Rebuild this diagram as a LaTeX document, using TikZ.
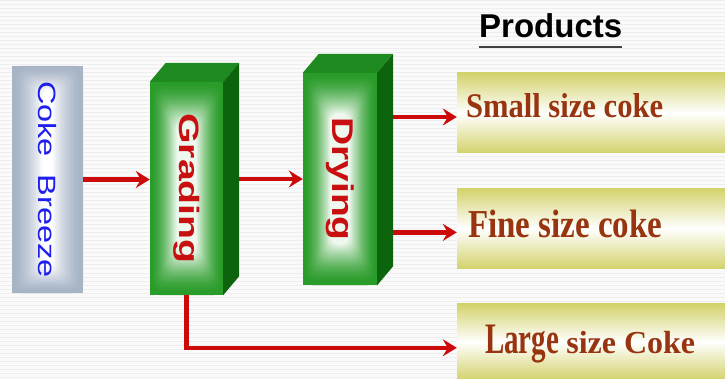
\documentclass[tikz,border=0pt]{standalone}
\usepackage{fontspec}
\setmainfont{Liberation Serif}
\setsansfont{Liberation Sans}
\usetikzlibrary{arrows.meta,positioning,calc}

\definecolor{boxgreen}{HTML}{2A9C2A}
\definecolor{glowgreen}{HTML}{EEF8EE}
\definecolor{topgreen}{HTML}{1F8A1F}
\definecolor{sidegreen}{HTML}{0C640C}
\definecolor{arrowred}{HTML}{CC0A0A}
\definecolor{breezegray}{HTML}{A7B4C6}
\definecolor{breezeblue}{HTML}{1E1EEE}
\definecolor{stagered}{HTML}{C81010}
\definecolor{barolive}{HTML}{D3D26C}
\definecolor{prodbrown}{HTML}{983410}
\definecolor{titleline}{HTML}{404040}
\definecolor{bgwhite}{HTML}{FAFAFA}
\definecolor{stripe}{HTML}{EEEEEE}

\begin{document}
\begin{tikzpicture}[x=1pt,y=-1pt,
    flow/.style={-{Stealth[length=14pt,width=17pt,inset=5pt]},line width=4.5pt,draw=arrowred},
    breezebox/.style={fill=breezegray,minimum width=71pt,minimum height=227pt,inner sep=0pt},
    stage/.style={fill=boxgreen,minimum width=73pt,minimum height=213pt,inner sep=0pt},
    topface/.style={fill=topgreen},
    sideface/.style={fill=sidegreen},
    bar/.style={top color=barolive,bottom color=barolive,middle color=white,
                minimum width=268pt,minimum height=80pt,inner sep=0pt},
    prodtext/.style={font=\bfseries,text=prodbrown,inner sep=0pt,anchor=base west}]

  \useasboundingbox (0,0) rectangle (725,379);
  \fill[bgwhite] (0,0) rectangle (725,379);
  \foreach \y in {1,5,...,377}
    \draw[stripe,line width=1pt] (0,\y) -- (725,\y);

  % feed and process blocks
  \node[breezebox] (breeze) at (47.5,179.5) {};
  \node[stage] (grading) at (186.5,188.5) {};
  \node[stage,minimum width=74pt,minimum height=212pt] (drying) at (340,179) {};

  % soft glow on the front faces
  \foreach \s/\ha/\hb/\ga/\gb/\base/\glow in
      {grading/36.5/106.5/10/66/boxgreen/glowgreen,
       drying/37/106/10/66/boxgreen/glowgreen,
       breeze/35.5/113.5/5/90/breezegray/white} {
    \foreach \i in {0,...,24} {
      \pgfmathsetmacro\a{\ha-(\ha-\ga)*\i/24}
      \pgfmathsetmacro\b{\hb-(\hb-\gb)*\i/24}
      \pgfmathtruncatemacro\p{100*(\i/24)^1.6}
      \fill[\glow!\p!\base,rounded corners=9pt]
        ($(\s.center)+(-\a,-\b)$) rectangle ($(\s.center)+(\a,\b)$);
    }
  }

  \foreach \s in {grading,drying} {
    \fill[topface] (\s.north west) -- ++(16,-19) -- ($(\s.north east)+(16,-19)$)
                   -- (\s.north east) -- cycle;
    \fill[sideface] (\s.north east) -- ++(16,-19) -- ($(\s.south east)+(16,-19)$)
                    -- (\s.south east) -- cycle;
  }

  \node[rotate=-90,text=breezeblue,font=\sffamily\fontsize{25}{25}\selectfont,inner sep=0pt]
    (breezetxt) at (breeze.center) {\scalebox{1.3}[1]{Coke\hspace{0.55em}Breeze}};
  \node[rotate=-90,text=stagered,font=\sffamily\bfseries\fontsize{28}{28}\selectfont,inner sep=0pt]
    (gradingtxt) at (grading.center) {\scalebox{1.4}[1]{Grading}};
  \node[rotate=-90,text=stagered,font=\sffamily\bfseries\fontsize{30}{30}\selectfont,inner sep=0pt]
    (dryingtxt) at (drying.center) {\scalebox{1.3}[1]{Drying}};

  % products
  \node[font=\sffamily\bfseries\fontsize{33}{33}\selectfont,inner sep=0pt,anchor=base west]
    (title) at (479,38) {Products};
  \draw[titleline,line width=2pt] ($(title.base west)+(0,9)$) -- ($(title.base east)+(0,9)$);

  \node[bar] (small) at (591,113) {};
  \node[bar,below=35pt of small] (fine) {};
  \node[bar,below=35pt of fine,minimum height=76pt] (large) {};

  \node[prodtext] (smalltxt) at ($(small.west)+(9,5)$)
    {\fontsize{30.6}{30}\selectfont\scalebox{1}[1.13]{Small size coke}};
  \node[prodtext] (finetxt) at ($(fine.west)+(11,9)$)
    {\fontsize{33}{33}\selectfont\scalebox{1}[1.2]{Fine size coke}};
  \node[prodtext] (largetxt) at ($(large.west)+(28,12)$)
    {\fontsize{29}{29}\selectfont\scalebox{1}[1.5]{Large} \fontsize{32}{32}\selectfont size Coke};

  % flows
  \coordinate (gradeside) at ($(grading.east)+(16,0)$);
  \coordinate (dryside) at ($(drying.east)+(16,0)$);
  \coordinate (smallin) at ($(small.west)+(0,4)$);
  \coordinate (finein) at ($(fine.west)+(0,4)$);
  \coordinate (largein) at ($(large.west)+(0,6)$);

  \draw[flow] (breeze.east) -- (breeze.east -| grading.west);
  \draw[flow] (gradeside |- drying.west) -- (drying.west);
  \draw[flow] (dryside |- smallin) -- (smallin);
  \draw[flow] (dryside |- finein) -- (finein);
  \draw[flow] (grading.south) |- (largein);
\end{tikzpicture}
\end{document}
